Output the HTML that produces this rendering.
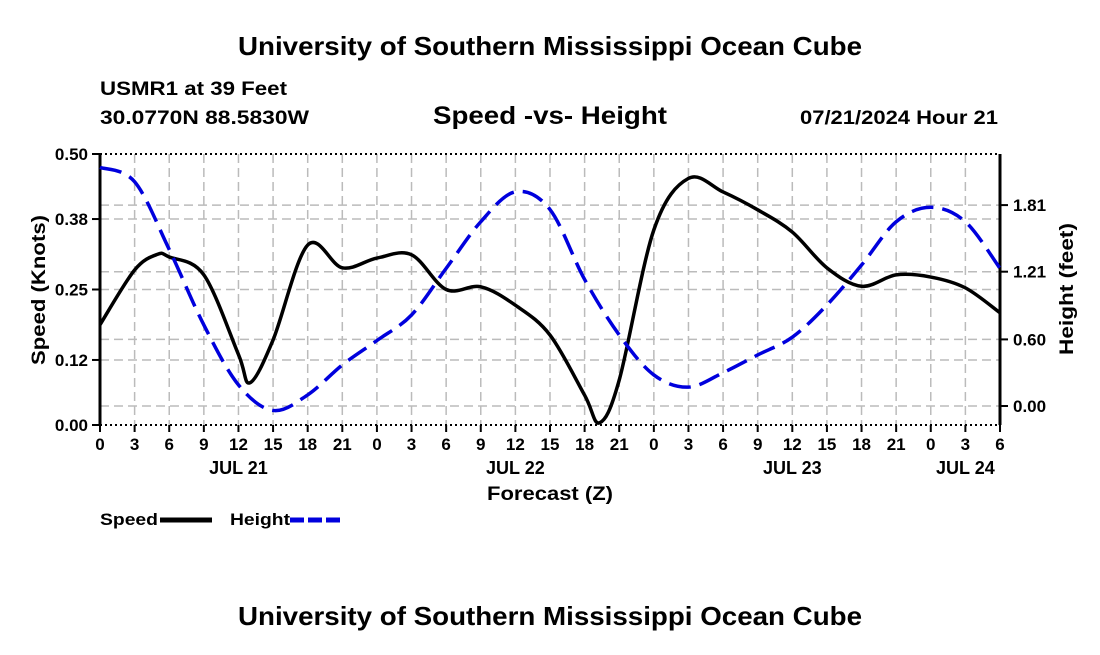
<!DOCTYPE html>
<html><head><meta charset="utf-8"><style>
body{margin:0;background:#fff;width:1100px;height:650px;overflow:hidden}
text{font-family:"Liberation Sans",sans-serif;font-weight:bold;fill:#000}
</style></head><body>
<svg id="c" width="1100" height="650">
<text x="238" y="55" font-size="26" textLength="624" lengthAdjust="spacingAndGlyphs">University of Southern Mississippi Ocean Cube</text>
<text x="100" y="95" font-size="19" textLength="187" lengthAdjust="spacingAndGlyphs">USMR1 at 39 Feet</text>
<text x="100" y="124" font-size="19" textLength="209" lengthAdjust="spacingAndGlyphs">30.0770N  88.5830W</text>
<text x="433" y="124" font-size="25" textLength="234" lengthAdjust="spacingAndGlyphs">Speed -vs- Height</text>
<text x="800" y="124" font-size="19" textLength="198" lengthAdjust="spacingAndGlyphs">07/21/2024 Hour 21</text>
<text x="238" y="625" font-size="26" textLength="624" lengthAdjust="spacingAndGlyphs">University of Southern Mississippi Ocean Cube</text>
<g id="grid"></g><g id="axes"></g><g id="series"></g>
<text x="487" y="500" font-size="19" textLength="126" lengthAdjust="spacingAndGlyphs">Forecast (Z)</text>
<text transform="translate(45,365) rotate(-90)" font-size="19" textLength="150" lengthAdjust="spacingAndGlyphs">Speed (Knots)</text>
<text transform="translate(1073,355) rotate(-90)" font-size="19" textLength="132" lengthAdjust="spacingAndGlyphs">Height (feet)</text>
<g><text x="100" y="525" font-size="17" textLength="58" lengthAdjust="spacingAndGlyphs">Speed</text><line x1="160" y1="520" x2="212" y2="520" stroke="#000" stroke-width="5"/></g>
<g><text x="230" y="525" font-size="17" textLength="60" lengthAdjust="spacingAndGlyphs">Height</text><line x1="290" y1="520" x2="342" y2="520" stroke="#0000dd" stroke-width="5" stroke-dasharray="14,4"/></g>
</svg>
<script>
const hours=[0,3,5,6,9,12,13,15,18,21,24,27,30,33,36,39,42,43.3,45,48,51,54,57,60,63,66,69,72,75,78];
const speed=[0.185,0.286,0.315,0.31,0.277,0.13,0.078,0.157,0.332,0.29,0.308,0.314,0.25,0.255,0.221,0.166,0.055,0.004,0.083,0.36,0.455,0.43,0.397,0.356,0.29,0.256,0.277,0.273,0.253,0.207];
const hHours=[0,3,6,9,12,15,18,21,24,27,30,33,36,39,42,45,48,51,54,57,60,63,66,69,72,75,78];
const height=[2.15,2.02,1.41,0.73,0.19,-0.04,0.1,0.37,0.59,0.82,1.24,1.66,1.93,1.77,1.14,0.64,0.28,0.17,0.3,0.46,0.62,0.91,1.27,1.66,1.79,1.66,1.24];
const xTicks=[0,3,6,9,12,15,18,21,0,3,6,9,12,15,18,21,0,3,6,9,12,15,18,21,0,3,6];
const dayLabels=[["JUL 21",12],["JUL 22",36],["JUL 23",60],["JUL 24",75]];
const leftTicks=[0,0.12,0.25,0.38,0.5];
const leftLabels=["0.00","0.12","0.25","0.38","0.50"];
const rightTicks=[0,0.6,1.21,1.81];
const rightLabels=["0.00","0.60","1.21","1.81"];
const X=h=>100+h*900/78, YL=v=>425-v*542, YR=v=>406-v*111;
const NS="http://www.w3.org/2000/svg";
function mk(p,t,a){const e=document.createElementNS(NS,t);for(const k in a)e.setAttribute(k,a[k]);document.getElementById(p).appendChild(e);return e;}
const gs={stroke:"#bbb","stroke-width":1.5,"stroke-dasharray":"9,5"};
xTicks.forEach((t,i)=>{const x=X(i*3);
 if(i>0&&i<xTicks.length-1){const g=mk("grid","line",{x1:x,x2:x,y1:154,y2:425,...gs});}
 mk("axes","line",{x1:x,x2:x,y1:425,y2:432,stroke:"#000","stroke-width":2});
 const tx=mk("axes","text",{x:x,y:450,"font-size":17,"text-anchor":"middle"});tx.textContent=t;
 });
dayLabels.forEach(d=>{const t=mk("axes","text",{x:X(d[1]),y:474,"font-size":18,"text-anchor":"middle"});t.textContent=d[0];
 });
leftTicks.forEach((v,i)=>{const y=YL(v);
 if(v>0&&v<0.5){const g=mk("grid","line",{x1:100,x2:1000,y1:y,y2:y,...gs});}
 mk("axes","line",{x1:92,x2:100,y1:y,y2:y,stroke:"#000","stroke-width":2});
 const t=mk("axes","text",{x:88,y:y+6,"font-size":17,"text-anchor":"end"});t.textContent=leftLabels[i];
 });
rightTicks.forEach((v,i)=>{const y=YR(v);
 const g=mk("grid","line",{x1:100,x2:1000,y1:y,y2:y,...gs});
 mk("axes","line",{x1:1000,x2:1008,y1:y,y2:y,stroke:"#000","stroke-width":2});
 const t=mk("axes","text",{x:1013,y:y+6,"font-size":17});t.textContent=rightLabels[i];
 });
mk("axes","line",{x1:100,x2:100,y1:154,y2:425,stroke:"#000","stroke-width":3});
mk("axes","line",{x1:1000,x2:1000,y1:154,y2:425,stroke:"#000","stroke-width":3});
mk("axes","line",{x1:100,x2:1000,y1:154,y2:154,stroke:"#000","stroke-width":2,"stroke-dasharray":"2,3"});
mk("axes","line",{x1:100,x2:1000,y1:425,y2:425,stroke:"#000","stroke-width":2,"stroke-dasharray":"2,3"});
function smooth(xs,ys){const p=xs.map((x,i)=>[x,ys[i]]);let d="M"+p[0][0]+","+p[0][1];
 for(let i=0;i<p.length-1;i++){const p0=p[i-1]||p[i],p1=p[i],p2=p[i+1],p3=p[i+2]||p2;
  d+=" C"+(p1[0]+(p2[0]-p0[0])/6)+","+(p1[1]+(p2[1]-p0[1])/6)+" "+(p2[0]-(p3[0]-p1[0])/6)+","+(p2[1]-(p3[1]-p1[1])/6)+" "+p2[0]+","+p2[1];}return d;}
const sp=mk("series","path",{d:smooth(hours.map(X),speed.map(YL)),fill:"none",stroke:"#000","stroke-width":3.5});

const hp=mk("series","path",{d:smooth(hHours.map(X),height.map(YR)),fill:"none",stroke:"#0000dd","stroke-width":3.5,"stroke-dasharray":"22,9"});

</script>
</body></html>
